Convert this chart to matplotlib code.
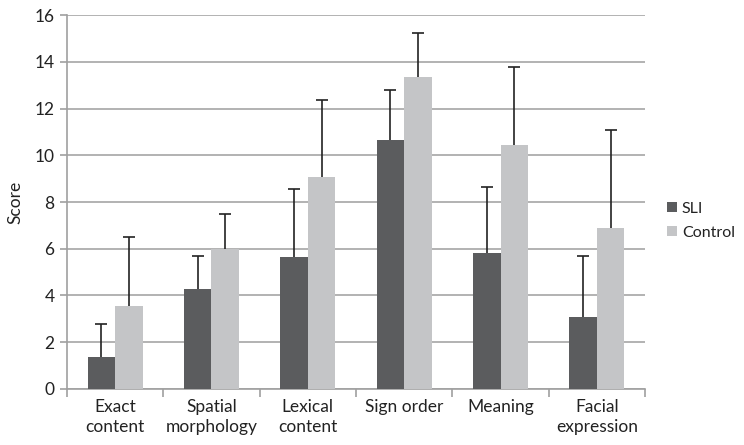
import matplotlib
matplotlib.use("Agg")
import matplotlib.pyplot as plt
import numpy as np

categories = ["Exact\ncontent", "Spatial\nmorphology", "Lexical\ncontent", "Sign order", "Meaning", "Facial\nexpression"]
sli = [1.35, 4.27, 5.63, 10.64, 5.80, 3.08]
sli_err = [1.45, 1.42, 2.94, 2.16, 2.85, 2.61]
control = [3.55, 6.00, 9.09, 13.35, 10.43, 6.90]
control_err = [2.94, 1.47, 3.28, 1.88, 3.37, 4.19]
series_names = ["SLI", "Control"]
yticks = [0, 2, 4, 6, 8, 10, 12, 14, 16]

plt.rcParams['font.family'] = ['Lato', 'DejaVu Sans']
fig = plt.figure(figsize=(7.44, 4.45), dpi=100)
ax = fig.add_axes([0.09, 0.126, 0.777, 0.840])

x = np.arange(len(categories))
w = 0.286
dark = "#5b5c5e"
light = "#c4c5c7"
ekw = dict(ecolor="#222222", elinewidth=1.2, capsize=4, capthick=1.2)
n = len(categories)
fs = 12.5
b1 = ax.bar(x - w/2, sli, w, color=dark, label=series_names[0], zorder=3,
            yerr=[np.zeros(n), sli_err], error_kw=ekw)
b2 = ax.bar(x + w/2, control, w, color=light, label=series_names[1], zorder=3,
            yerr=[np.zeros(n), control_err], error_kw=ekw)
for b in (b1, b2):
    caplines = b.errorbar.lines[1]
    if len(caplines) > 0:
        caplines[0].set_visible(False)

ax.set_xlim(-0.5, n - 0.5)
ax.set_ylim(0, 16)
ax.set_yticks(yticks)
ax.yaxis.grid(True, color="#a6a6a6", linewidth=1.2, zorder=0)
ax.set_axisbelow(True)
ax.set_xticks(x)
ax.set_xticklabels(categories, fontsize=fs, color="#222222", linespacing=1.3)
ax.tick_params(axis='x', which='major', length=0, pad=7)
ax.set_xticks(np.arange(-0.5, n, 1.0), minor=True)
ax.tick_params(axis='x', which='minor', length=6, width=1.2, color="#a0a0a0", direction='out')
ax.tick_params(axis='y', length=5, width=1.2, color="#a0a0a0", labelsize=fs, labelcolor="#222222", pad=4)
for s in ["top", "right"]:
    ax.spines[s].set_visible(False)
for s in ["left", "bottom"]:
    ax.spines[s].set_color("#a0a0a0")
    ax.spines[s].set_linewidth(1.2)
ax.set_ylabel("Score", fontsize=fs, color="#222222", labelpad=8)

leg = ax.legend(loc="center left", bbox_to_anchor=(1.0, 0.45), frameon=False,
                fontsize=11.5, handlelength=0.6, handleheight=0.6, handletextpad=0.3,
                labelspacing=0.65, borderaxespad=1.0)
for t in leg.get_texts():
    t.set_color("#222222")

fig.savefig("out.png", dpi=100)
